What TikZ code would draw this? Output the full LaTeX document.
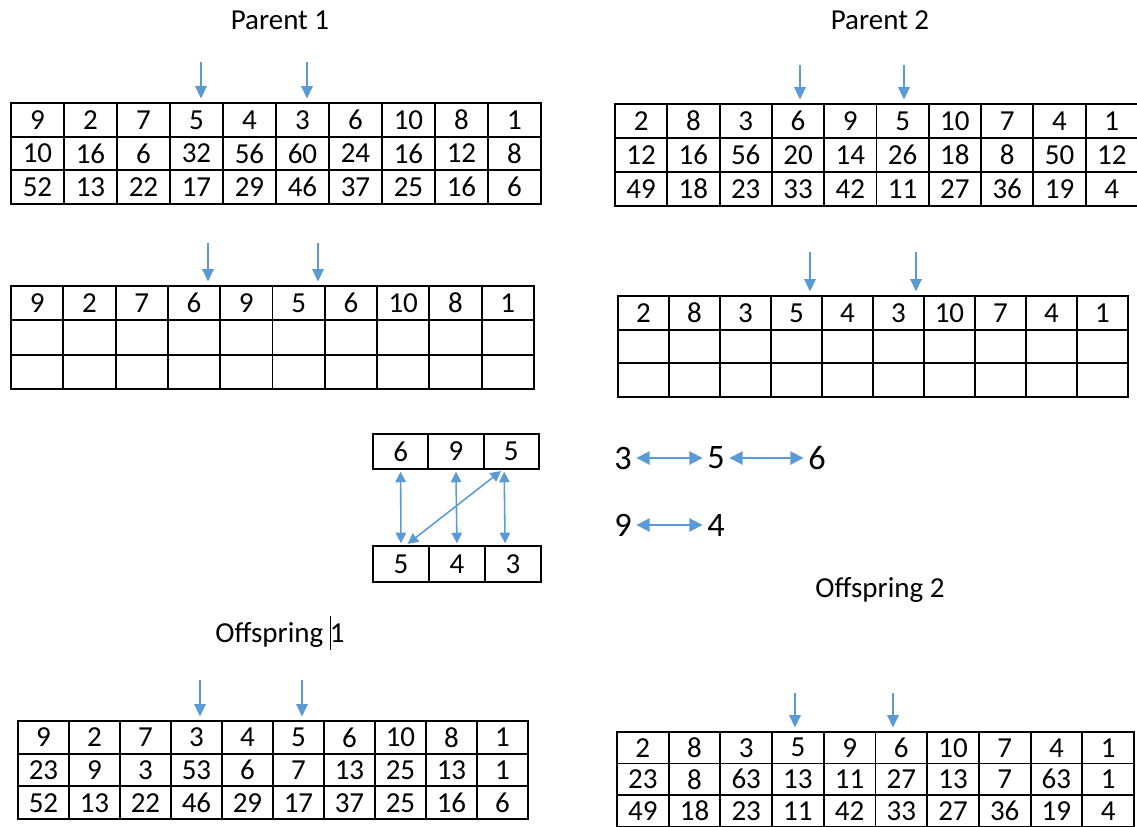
\documentclass[tikz,border=0pt]{standalone}
\usepackage{fontspec}
\setmainfont{Carlito}
\usetikzlibrary{arrows.meta}
\definecolor{arrblue}{HTML}{5B9BD5}
\tikzset{
 cell/.style={draw=black, line width=1.1pt, inner sep=0pt, font=\fontsize{16.5}{19}\selectfont, anchor=north west},
 title/.style={font=\fontsize{16.5}{20}\selectfont, inner sep=0pt},
 cutarrow/.style={arrblue, line width=1pt, -{Triangle[length=7pt,width=6.5pt]}, shorten >=2pt},
 swaparrow/.style={arrblue, line width=0.9pt, {Triangle[length=6pt,width=6pt]}-{Triangle[length=6pt,width=6pt]}, shorten >=1pt, shorten <=1pt},
 chainarrow/.style={arrblue, line width=1pt, {Triangle[length=7.5pt,width=7.5pt]}-{Triangle[length=7.5pt,width=7.5pt]}, shorten >=1.5pt, shorten <=1.5pt},
 bignum/.style={font=\fontsize{19.5}{22}\selectfont, inner sep=1pt},
}
\newcommand\gatable[6]{%
 \foreach \row [count=\r] in {#6} {%
  \foreach \v [count=\c] in \row {%
   \node[cell, minimum width={#4*0.02cm}, minimum height={#5*0.02cm}] (#1-\r-\c) at ({#2+(\c-1)*#4},{#3+(\r-1)*#5}) {\v};
  }%
 }%
}
\begin{document}
\begin{tikzpicture}[x=0.02cm, y=-0.02cm]
\useasboundingbox (0,0) rectangle (1137,826);

% titles
\node[title] (t1) at (280,20) {Parent 1};
\node[title] (t2) at (880,20) {Parent 2};
\node[title] (t3) at (280,633) {Offspring {\rule[-0.28em]{0.5pt}{1.2em}}\kern-0.5pt1};
\node[title] (t4) at (880,590) {Offspring 2};

% parent tables
\gatable{p1}{10}{102}{53}{33.7}{{9,2,7,5,4,3,6,10,8,1},{10,16,6,32,56,60,24,16,12,8},{52,13,22,17,29,46,37,25,16,6}}
\gatable{p2}{614}{103}{52.3}{34}{{2,8,3,6,9,5,10,7,4,1},{12,16,56,20,14,26,18,8,50,12},{49,18,23,33,42,11,27,36,19,4}}

% intermediate tables
\gatable{ml}{10}{285}{52.3}{34.3}{{9,2,7,6,9,5,6,10,8,1},{~,~,~,~,~,~,~,~,~,~},{~,~,~,~,~,~,~,~,~,~}}
\gatable{mr}{617}{295}{51}{33.7}{{2,8,3,5,4,3,10,7,4,1},{~,~,~,~,~,~,~,~,~,~},{~,~,~,~,~,~,~,~,~,~}}

% swap boxes
\gatable{st}{372}{433}{55.3}{35}{{6,9,5}}
\gatable{sb}{372}{545}{56}{36}{{5,4,3}}

% offspring tables
\gatable{o1}{17}{720}{51}{32.7}{{9,2,7,3,4,5,6,10,8,1},{23,9,3,53,6,7,13,25,13,1},{52,13,22,46,29,17,37,25,16,6}}
\gatable{o2}{616}{731}{51.7}{31.5}{{2,8,3,5,9,6,10,7,4,1},{23,8,63,13,11,27,13,7,63,1},{49,18,23,11,42,33,27,36,19,4}}

% cut-point arrows
\coordinate (p1a) at (201,62);  \coordinate (p1b) at (307,62);
\coordinate (p2a) at (800,65);  \coordinate (p2b) at (904,65);
\coordinate (mla) at (208,243); \coordinate (mlb) at (318,243);
\coordinate (mra) at (810,252); \coordinate (mrb) at (916,252);
\coordinate (o1a) at (200,680); \coordinate (o1b) at (302,680);
\coordinate (o2a) at (795,693); \coordinate (o2b) at (893,693);
\draw[cutarrow] (p1a) -- (p1a |- p1-1-4.north);
\draw[cutarrow] (p1b) -- (p1b |- p1-1-6.north);
\draw[cutarrow] (p2a) -- (p2a |- p2-1-4.north);
\draw[cutarrow] (p2b) -- (p2b |- p2-1-6.north);
\draw[cutarrow] (mla) -- (mla |- ml-1-4.north);
\draw[cutarrow] (mlb) -- (mlb |- ml-1-6.north);
\draw[cutarrow] (mra) -- (mra |- mr-1-4.north);
\draw[cutarrow] (mrb) -- (mrb |- mr-1-6.north);
\draw[cutarrow] (o1a) -- (o1a |- o1-1-4.north);
\draw[cutarrow] (o1b) -- (o1b |- o1-1-6.north);
\draw[cutarrow] (o2a) -- (o2a |- o2-1-4.north);
\draw[cutarrow] (o2b) -- (o2b |- o2-1-6.north);

% swap arrows
\draw[swaparrow] (st-1-1.south) -- (sb-1-1.north);
\draw[swaparrow] (st-1-2.south) -- (sb-1-2.north);
\draw[swaparrow] ([xshift=-4pt]st-1-3.south) -- ([xshift=-4.5pt]sb-1-3.north);
\draw[swaparrow] ([xshift=3pt]sb-1-1.north) -- ([xshift=-5pt]st-1-3.south);

% mapping chains
\node[bignum] (c3) at (623,458) {3};
\node[bignum] (c5) at (716,458) {5};
\node[bignum] (c6) at (817,458) {6};
\node[bignum] (c9) at (623,525) {9};
\node[bignum] (c4) at (716,525) {4};
\draw[chainarrow] (c3) -- (c5);
\draw[chainarrow] (c5) -- (c6);
\draw[chainarrow] (c9) -- (c4);
\end{tikzpicture}
\end{document}
